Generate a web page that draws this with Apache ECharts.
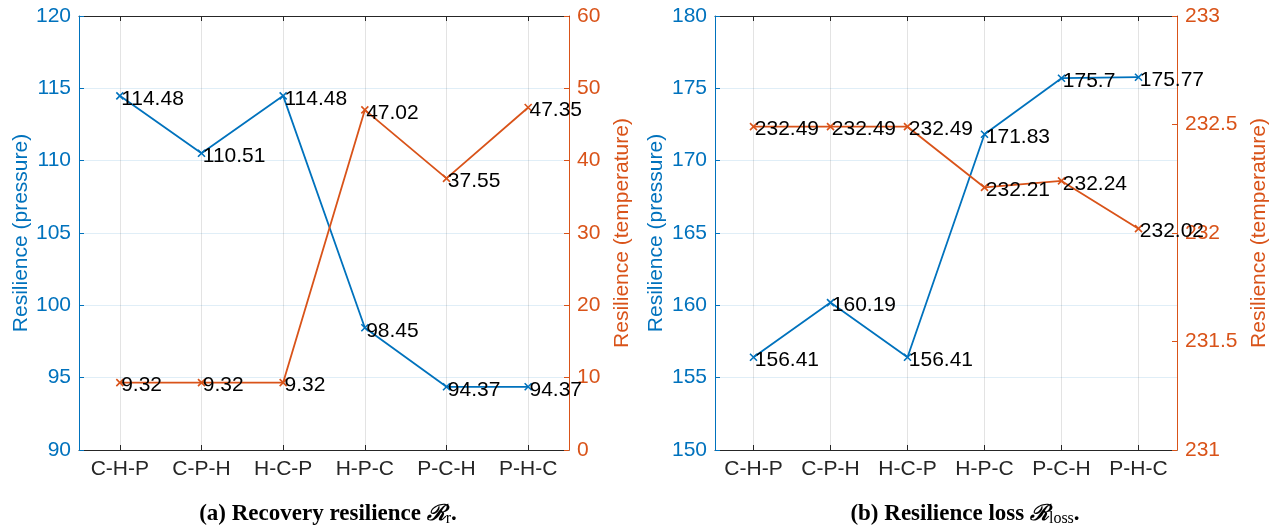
<!DOCTYPE html>
<html>
<head>
<meta charset="utf-8">
<script src="https://cdn.jsdelivr.net/npm/echarts@6/dist/echarts.min.js"></script>
<style>
  html, body { margin: 0; padding: 0; background: #fff; }
  #main { width: 1272px; height: 527px; }
</style>
</head>
<body>
<div id="main"></div>
<script>
// 数据
var categories = ['C-H-P', 'C-P-H', 'H-C-P', 'H-P-C', 'P-C-H', 'P-H-C'];
var recPressure = [114.48, 110.51, 114.48, 98.45, 94.37, 94.37];
var recTemperature = [9.32, 9.32, 9.32, 47.02, 37.55, 47.35];
var lossPressure = [156.41, 160.19, 156.41, 171.83, 175.7, 175.77];
var lossTemperature = [232.49, 232.49, 232.49, 232.21, 232.24, 232.02];

var BLUE = '#0072BD';
var ORANGE = '#D95319';
var DARK = '#262626';
var FONT = 'Liberation Sans, Arial, sans-serif';
var FS = 21;
var crossSymbol = 'path://M0 0L10 10M10 0L0 10';

function xAxisFor(gridIndex, top) {
  return {
    type: 'category',
    gridIndex: gridIndex,
    position: top ? 'top' : 'bottom',
    data: categories,
    boundaryGap: true,
    axisLine: { show: true, lineStyle: { color: DARK, width: 1 } },
    axisTick: { show: true, inside: true, alignWithLabel: true, length: 5, lineStyle: { color: DARK } },
    axisLabel: { show: !top, color: DARK, fontSize: FS, fontFamily: FONT, margin: 9 },
    splitLine: top ? { show: false } : { show: true, alignWithLabel: true, lineStyle: { color: 'rgba(38,38,38,0.13)', width: 1 } }
  };
}

function yAxisFor(gridIndex, right, min, max, interval, color, name, gap) {
  return {
    type: 'value',
    gridIndex: gridIndex,
    position: right ? 'right' : 'left',
    min: min, max: max, interval: interval,
    name: name,
    nameLocation: 'middle',
    nameGap: gap,
    nameTextStyle: { color: color, fontSize: FS, fontFamily: FONT },
    axisLine: { show: true, lineStyle: { color: color, width: 1 } },
    axisTick: { show: true, inside: true, length: 5, lineStyle: { color: color } },
    axisLabel: { color: color, fontSize: FS, fontFamily: FONT, margin: 8 },
    splitLine: right ? { show: false } : { show: true, lineStyle: { color: 'rgba(0,114,189,0.12)', width: 1 } }
  };
}

function lineSeries(xi, yi, data, color) {
  return {
    type: 'line',
    xAxisIndex: xi,
    yAxisIndex: yi,
    data: data,
    symbol: crossSymbol,
    symbolSize: 7,
    showAllSymbol: true,
    lineStyle: { color: color, width: 1.8 },
    itemStyle: { color: color, borderColor: color, borderWidth: 1.6 },
    label: {
      show: true,
      position: 'right',
      distance: 0,
      offset: [-3, 3],
      color: '#000',
      fontSize: FS,
      fontFamily: FONT
    },
    emphasis: { disabled: true },
    animation: false,
    z: 3
  };
}

var captionStyle = {
  fontFamily: 'Liberation Serif, DejaVu Serif, serif',
  fontWeight: 'bold',
  fontSize: 23,
  color: '#000',
  rich: {
    sub: { fontFamily: 'Liberation Serif, serif', fontSize: 16, fontWeight: 'normal', padding: [10, 0, 0, 0], color: '#000' },
    r: { fontFamily: 'DejaVu Serif, serif', fontSize: 22, fontStyle: 'italic', color: '#000' },
    b: { fontFamily: 'Liberation Serif, serif', fontSize: 23, fontWeight: 'bold', color: '#000' }
  }
};

var option = {
  backgroundColor: '#fff',
  animation: false,
  title: [
    { text: '{b|(a) Recovery resilience }{r|ℛ}{sub|r}{b|.}', left: 323, top: 496, textAlign: 'center', textStyle: captionStyle },
    { text: '{b|(b) Resilience loss }{r|ℛ}{sub|loss}{b|.}', left: 960, top: 496, textAlign: 'center', textStyle: captionStyle }
  ],
  grid: [
    { left: 79, right: 703, top: 16, height: 434, containLabel: false },
    { left: 715, right: 95, top: 16, height: 434, containLabel: false }
  ],
  xAxis: [
    xAxisFor(0, false),
    xAxisFor(0, true),
    xAxisFor(1, false),
    xAxisFor(1, true)
  ],
  yAxis: [
    yAxisFor(0, false, 90, 120, 5, BLUE, 'Resilience (pressure)', 46),
    yAxisFor(0, true, 0, 60, 10, ORANGE, 'Resilience (temperature)', 43),
    yAxisFor(1, false, 150, 180, 5, BLUE, 'Resilience (pressure)', 48),
    yAxisFor(1, true, 231, 233, 0.5, ORANGE, 'Resilience (temperature)', 72)
  ],
  series: [
    lineSeries(0, 0, recPressure, BLUE),
    lineSeries(0, 1, recTemperature, ORANGE),
    lineSeries(2, 2, lossPressure, BLUE),
    lineSeries(2, 3, lossTemperature, ORANGE)
  ]
};

echarts.init(document.getElementById('main'), null, { renderer: 'canvas' }).setOption(option);
</script>
</body>
</html>
